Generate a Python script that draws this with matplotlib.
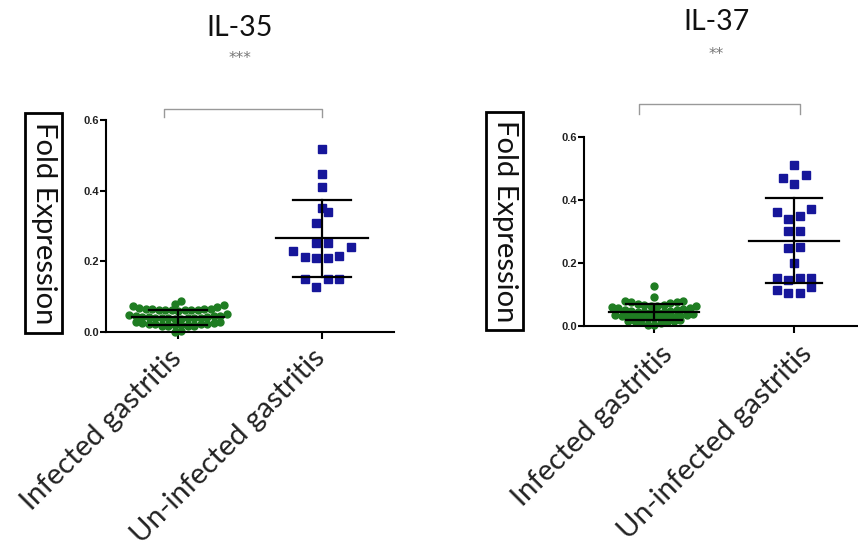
import numpy as np
import matplotlib.pyplot as plt
from matplotlib.patches import Rectangle
from matplotlib.transforms import ScaledTranslation

# IL-35 fold expression
il35_infected = [0.0, 0.003,
                 0.016, 0.017, 0.018, 0.018, 0.019, 0.019, 0.020, 0.020, 0.021, 0.021,
                 0.022, 0.022, 0.023, 0.024, 0.025, 0.026, 0.027, 0.028,
                 0.038, 0.038, 0.039, 0.039, 0.040, 0.040, 0.041, 0.041, 0.042, 0.042,
                 0.043, 0.044, 0.045, 0.046, 0.048, 0.050,
                 0.060, 0.061, 0.061, 0.062, 0.062, 0.063, 0.063, 0.064, 0.064,
                 0.065, 0.066, 0.068, 0.070, 0.073, 0.076,
                 0.079, 0.088]
il35_uninfected = [0.517, 0.446, 0.410, 0.352, 0.339, 0.308, 0.251, 0.251, 0.240, 0.230,
                   0.215, 0.213, 0.210, 0.209, 0.150, 0.150, 0.150, 0.128]

# IL-37 fold expression
il37_infected = [0.002, 0.004, 0.010, 0.012, 0.014, 0.015, 0.016, 0.017, 0.018,
                 0.024, 0.024, 0.025, 0.026, 0.027, 0.028, 0.029, 0.030, 0.031, 0.032,
                 0.034, 0.036, 0.038,
                 0.044, 0.044, 0.045, 0.045, 0.046, 0.047, 0.048, 0.050, 0.052, 0.054,
                 0.056, 0.058, 0.060, 0.062,
                 0.064, 0.065, 0.066, 0.068, 0.070, 0.072, 0.075, 0.077, 0.078, 0.080,
                 0.092, 0.127]
il37_uninfected = [0.511, 0.479, 0.471, 0.451, 0.370, 0.363, 0.349, 0.340, 0.302, 0.302,
                   0.252, 0.249, 0.201, 0.153, 0.153, 0.153, 0.146, 0.123, 0.114, 0.104, 0.104]

groups = ['Infected gastritis', 'Un-infected gastritis']
titles = ['IL-35', 'IL-37']
stars = ['***', '**']
yticks = [0.0, 0.2, 0.4, 0.6]

GREEN = '#1f7d22'
BLUE = '#16169a'

W, H = 858, 544


def row_layout(vals, h, step, sx):
    # GraphPad-like rows: close values share a row, smallest in the middle
    v = np.sort(np.asarray(vals, dtype=float))
    rows = []
    cur = [v[0]]
    for x in v[1:]:
        if x - cur[0] > h + 1e-9:
            rows.append(cur)
            cur = [x]
        else:
            cur.append(x)
    rows.append(cur)
    xs, ys = [], []
    for r in rows:
        n = len(r)
        slots = [(i - (n - 1) / 2.0) * step for i in range(n)]
        slots.sort(key=lambda o: (abs(o), o))
        for val, o in zip(r, slots):
            xs.append(o / sx)
            ys.append(val)
    return np.array(xs), np.array(ys)


def panel(fig, rect, data, title, star, bracket, title_xy, star_xy, box, gstep, lab_shift):
    l, t, r, b = rect
    ax = fig.add_axes([l / W, (H - b) / H, (r - l) / W, (b - t) / H])
    sx = (r - l) / 2.0
    specs = [(GREEN, 'o', 5.0, 0.018, gstep), (BLUE, 's', 6.0, 0.032, 11.5)]
    for k, (vals, (col, mk, ms, h, step)) in enumerate(zip(data, specs)):
        xs, ys = row_layout(vals, h, step, sx)
        ax.plot(k + xs, ys, mk, color=col, ms=ms, mec=col, clip_on=False, zorder=2)
        vals = np.array(vals)
        m = vals.mean()
        s = vals.std(ddof=1)
        kw = dict(color='black', lw=1.6, zorder=3, clip_on=False)
        ax.plot([k - 0.32, k + 0.32], [m, m], **kw)
        ax.plot([k - 0.2, k + 0.2], [m + s, m + s], **kw)
        ax.plot([k - 0.2, k + 0.2], [m - s, m - s], **kw)
        ax.plot([k, k], [m - s, m + s], **kw)

    ax.set_xlim(-0.5, 1.5)
    ax.set_ylim(0, 0.6)
    ax.set_yticks(yticks)
    ax.set_yticklabels(['%.1f' % v for v in yticks], fontsize=8, fontweight='bold',
                       family='Liberation Sans', color='#222222')
    ax.set_xticks([0, 1])
    ax.set_xticklabels([])
    ax.tick_params(axis='y', direction='out', length=4, width=1.5, pad=1)
    ax.tick_params(axis='x', direction='out', length=5, width=1.5)
    for sp in ['top', 'right']:
        ax.spines[sp].set_visible(False)
    for sp in ['left', 'bottom']:
        ax.spines[sp].set_linewidth(1.5)

    # rotated category labels, anchored below each tick
    off = ScaledTranslation(lab_shift[0] / 100, (lab_shift[1] - 10) / 100, fig.dpi_scale_trans)
    for k, g in enumerate(groups):
        ax.text(k, 0, g, transform=ax.get_xaxis_transform() + off, rotation=45,
                ha='right', va='top', rotation_mode='anchor', fontsize=21,
                family='Lato', color='#222222')

    x0, x1, y0, y1 = bracket
    ax.plot([x0, x0, x1, x1], [y0, y1, y1, y0], color='#999999', lw=1.0, clip_on=False)

    fig.text(title_xy[0] / W, 1 - title_xy[1] / H, title, ha='center', va='center',
             fontsize=20.5, family='Lato', color='#111111')
    fig.text(star_xy[0] / W, 1 - star_xy[1] / H, star, ha='center', va='center',
             fontsize=11, color='#777777')

    bx0, by0, bx1, by1 = box
    fig.patches.append(Rectangle((bx0 / W, 1 - by1 / H), (bx1 - bx0) / W, (by1 - by0) / H,
                                 transform=fig.transFigure, facecolor='none',
                                 edgecolor='black', lw=2.0))
    fig.text((bx0 + bx1) / 2 / W, 1 - (by0 + by1) / 2 / H, 'Fold Expression', rotation=270,
             ha='center', va='center', fontsize=21, family='Lato', color='#111111')
    return ax


fig = plt.figure(figsize=(W / 100, H / 100), dpi=100)

panel(fig, (106, 120, 394, 332), [il35_infected, il35_uninfected], titles[0], stars[0],
      (-0.1, 1.0, 0.609, 0.631), (240, 28), (240, 58), (25, 113, 62, 333), 6.5, (-10, -3))
panel(fig, (584, 137, 864, 326), [il37_infected, il37_uninfected], titles[1], stars[1],
      (-0.11, 1.04, 0.673, 0.705), (716, 22), (716, 55), (486, 112, 523, 330), 6.5, (5, -5))

fig.savefig('out.png', dpi=100, facecolor='white')
